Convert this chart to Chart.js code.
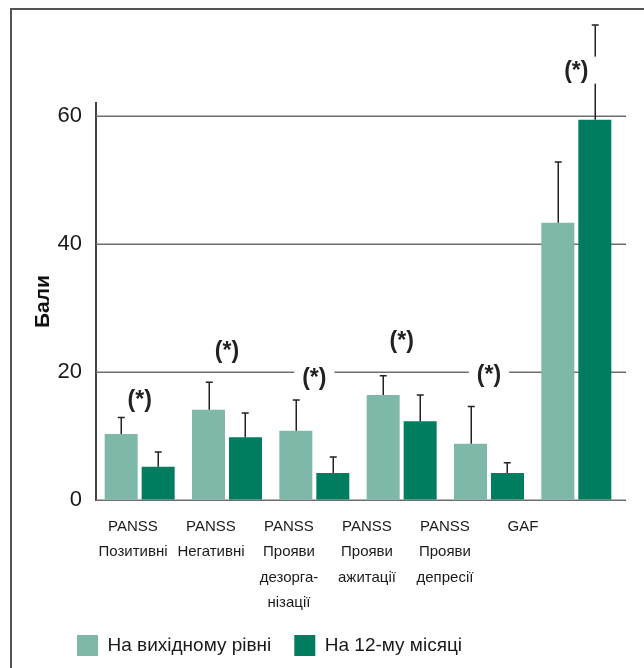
<!DOCTYPE html>
<html>
<head>
<meta charset="utf-8">
<script src="https://cdn.jsdelivr.net/npm/chart.js@4.4.1/dist/chart.umd.min.js"></script>
<style>
  html, body { margin: 0; padding: 0; background: #fff; }
  #wrap { position: relative; width: 644px; height: 668px; overflow: hidden; }
  #frame { position: absolute; left: 10px; top: 8px; width: 660px; height: 700px;
           border-left: 2px solid #555; border-top: 2px solid #555; }
  canvas { position: absolute; left: 0; top: 0; }
</style>
</head>
<body>
<div id="wrap">
  <div id="frame"></div>
  <canvas id="chart" width="644" height="668"></canvas>
</div>
<script>
// дані
const categories = [
  ["PANSS", "Позитивні"],
  ["PANSS", "Негативні"],
  ["PANSS", "Прояви", "дезорга-", "нізації"],
  ["PANSS", "Прояви", "ажитації"],
  ["PANSS", "Прояви", "депресії"],
  ["GAF"]
];
const seriesNames = ["На вихідному рівні", "На 12-му місяці"];
const baseline   = [10.3, 14.1, 10.8, 16.4, 8.8, 43.3];
const baselineSd = [2.6, 4.3, 4.8, 3.0, 5.8, 9.5];
const month12    = [5.2, 9.8, 4.2, 12.3, 4.2, 59.4];
const month12Sd  = [2.3, 3.8, 2.5, 4.1, 1.6, 14.8];
const sigLabelAt = [15.5, 23.2, 18.9, 24.7, 19.4, 66.9];   // висота позначки (*)
const yTicks     = [0, 20, 40, 60];

const FONT = '"Liberation Sans", Arial, sans-serif';
const TEXT = '#1a1a1a';

// сітка, планки похибок і позначки значущості
const extras = {
  id: 'extras',
  beforeDatasetsDraw(chart) {
    const { ctx, chartArea, scales: { y } } = chart;
    ctx.save();
    ctx.strokeStyle = '#6e6e6e';
    ctx.lineWidth = 1.5;
    yTicks.forEach(v => {
      const py = Math.round(y.getPixelForValue(v)) + 0.25;
      ctx.beginPath();
      ctx.moveTo(chartArea.left, py);
      ctx.lineTo(chartArea.right + 6, py);
      ctx.stroke();
    });
    ctx.restore();
  },
  afterDatasetsDraw(chart) {
    const { ctx, scales: { x, y } } = chart;
    const sds = [baselineSd, month12Sd];
    ctx.save();
    ctx.strokeStyle = '#222';
    ctx.lineWidth = 1.5;
    chart.data.datasets.forEach((ds, i) => {
      chart.getDatasetMeta(i).data.forEach((bar, j) => {
        const top = y.getPixelForValue(ds.data[j] + sds[i][j]);
        const bx = Math.round(bar.x) + 0.25;
        ctx.beginPath();
        ctx.moveTo(bx, bar.y);
        ctx.lineTo(bx, top);
        ctx.moveTo(bx - 3.5, top);
        ctx.lineTo(bx + 3.5, top);
        ctx.stroke();
      });
    });

    ctx.font = 'bold 23px ' + FONT;
    ctx.textAlign = 'center';
    ctx.textBaseline = 'middle';
    const w = ctx.measureText('(*)').width;
    sigLabelAt.forEach((v, j) => {
      const px = x.getPixelForValue(j);
      const py = y.getPixelForValue(v);
      ctx.fillStyle = '#fff';
      ctx.fillRect(px - w / 2 - 8, py - 15, w + 16, 27);
      ctx.fillStyle = '#222';
      ctx.fillText('(*)', px, py);
    });
    ctx.restore();
  }
};

new Chart(document.getElementById('chart'), {
  type: 'bar',
  data: {
    labels: categories,
    datasets: [
      { label: seriesNames[0], data: baseline, backgroundColor: '#7db8a8' },
      { label: seriesNames[1], data: month12, backgroundColor: '#007c5f' }
    ]
  },
  options: {
    responsive: false,
    animation: false,
    datasets: { bar: { categoryPercentage: 0.847, barPercentage: 0.892 } },
    layout: { padding: { left: 54, right: 24, top: 103, bottom: 2 } },
    scales: {
      x: { display: false },
      // окрема шкала для підписів категорій (у оригіналі вони трохи зсунуті)
      x2: {
        type: 'linear',
        position: 'bottom',
        offset: false,
        min: -0.474,
        max: 6.244,
        grid: { display: false, offset: false },
        border: { display: false },
        afterBuildTicks: s => { s.ticks = categories.map((c, i) => ({ value: i })); },
        afterFit: s => { s.height = 112; },
        ticks: {
          padding: 6,
          autoSkip: false,
          maxRotation: 0,
          color: TEXT,
          font: { family: FONT, size: 15, lineHeight: 1.7 },
          callback: v => categories[v]
        }
      },
      y: {
        min: 0,
        max: 62,
        afterBuildTicks: s => { s.ticks = yTicks.map(v => ({ value: v })); },
        afterFit: s => { s.width = 42; },
        grid: { color: 'rgba(0,0,0,0)', drawTicks: false },
        border: { color: '#444', width: 2 },
        ticks: { padding: 14, color: TEXT, font: { family: FONT, size: 22 } },
        title: {
          display: true,
          text: 'Бали',
          color: '#111',
          font: { family: FONT, size: 21, weight: 'bold' },
          padding: { top: -23, bottom: 0 }
        }
      }
    },
    plugins: {
      legend: {
        position: 'bottom',
        align: 'start',
        labels: {
          boxWidth: 21,
          boxHeight: 21,
          padding: 23,
          color: TEXT,
          font: { family: FONT, size: 19 }
        }
      },
      tooltip: { enabled: false }
    }
  },
  plugins: [extras]
});
</script>
</body>
</html>
